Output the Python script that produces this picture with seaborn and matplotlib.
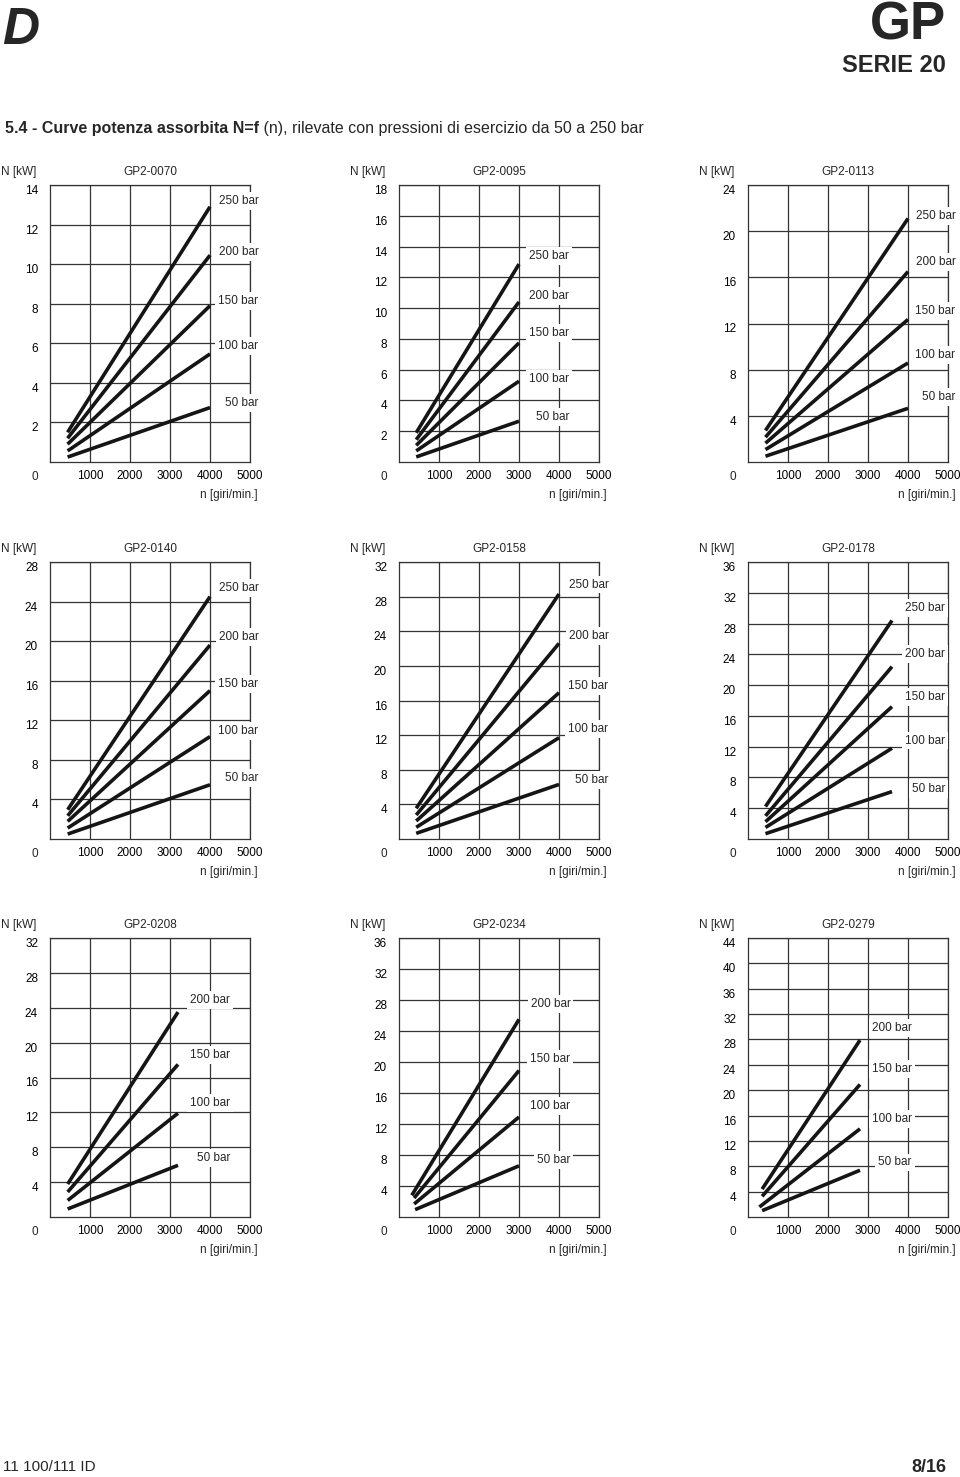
import pandas as pd
import matplotlib
matplotlib.use("Agg")
import matplotlib.pyplot as plt
import seaborn as sns

# Power absorbed N [kW] vs speed n [giri/min] -- start/end of each pressure curve
models = ["GP2-0070", "GP2-0095", "GP2-0113",
          "GP2-0140", "GP2-0158", "GP2-0178",
          "GP2-0208", "GP2-0234", "GP2-0279"]
y_max = [14, 18, 24, 28, 32, 36, 32, 36, 44]
y_step = [2, 2, 4, 4, 4, 4, 4, 4, 4]
x_ticks = [1000, 2000, 3000, 4000, 5000]

bars_5 = [250, 200, 150, 100, 50]
bars_4 = [200, 150, 100, 50]

# GP2-0070
n_lo_0070 = [440, 440, 440, 440, 440]
n_hi_0070 = 4000
kw_lo_0070 = [1.5, 1.2, 0.9, 0.56, 0.25]
kw_hi_0070 = [12.9, 10.45, 7.9, 5.46, 2.75]
# GP2-0095
n_lo_0095 = [430, 430, 430, 430, 430]
n_hi_0095 = 3000
kw_lo_0095 = [1.9, 1.45, 1.08, 0.72, 0.33]
kw_hi_0095 = [12.86, 10.4, 7.74, 5.25, 2.65]
# GP2-0113
n_lo_0113 = [437, 437, 437, 437, 437]
n_hi_0113 = 4000
kw_lo_0113 = [2.73, 2.15, 1.63, 1.08, 0.5]
kw_hi_0113 = [21.1, 16.5, 12.35, 8.58, 4.65]
# GP2-0140
n_lo_0140 = [442, 442, 442, 442, 442]
n_hi_0140 = 4000
kw_lo_0140 = [2.96, 2.35, 1.78, 1.11, 0.5]
kw_hi_0140 = [24.5, 19.6, 15.0, 10.35, 5.48]
# GP2-0158
n_lo_0158 = [430, 430, 430, 430, 430]
n_hi_0158 = 4000
kw_lo_0158 = [3.54, 2.77, 2.08, 1.35, 0.65]
kw_hi_0158 = [28.3, 22.6, 16.9, 11.7, 6.3]
# GP2-0178
n_lo_0178 = [437, 437, 437, 437, 437]
n_hi_0178 = 3600
kw_lo_0178 = [4.22, 3.0, 2.24, 1.5, 0.69]
kw_hi_0178 = [28.4, 22.4, 17.2, 11.8, 6.16]
# GP2-0208
n_lo_0208 = [442, 442, 442, 442]
n_hi_0208 = 3200
kw_lo_0208 = [3.78, 2.87, 1.9, 0.92]
kw_hi_0208 = [23.5, 17.5, 11.9, 5.93]
# GP2-0234
n_lo_0234 = [320, 378, 378, 403]
n_hi_0234 = 3000
kw_lo_0234 = [2.8, 2.45, 1.68, 0.95]
kw_hi_0234 = [25.5, 18.9, 12.9, 6.6]
# GP2-0279
n_lo_0279 = [353, 353, 286, 353]
n_hi_0279 = 2800
kw_lo_0279 = [4.4, 3.26, 1.58, 1.0]
kw_hi_0279 = [27.9, 20.9, 13.9, 7.37]

panels = [
    (bars_5, n_lo_0070, n_hi_0070, kw_lo_0070, kw_hi_0070),
    (bars_5, n_lo_0095, n_hi_0095, kw_lo_0095, kw_hi_0095),
    (bars_5, n_lo_0113, n_hi_0113, kw_lo_0113, kw_hi_0113),
    (bars_5, n_lo_0140, n_hi_0140, kw_lo_0140, kw_hi_0140),
    (bars_5, n_lo_0158, n_hi_0158, kw_lo_0158, kw_hi_0158),
    (bars_5, n_lo_0178, n_hi_0178, kw_lo_0178, kw_hi_0178),
    (bars_4, n_lo_0208, n_hi_0208, kw_lo_0208, kw_hi_0208),
    (bars_4, n_lo_0234, n_hi_0234, kw_lo_0234, kw_hi_0234),
    (bars_4, n_lo_0279, n_hi_0279, kw_lo_0279, kw_hi_0279),
]

# layout: where the "xxx bar" labels sit (right edge in n units, centre in kW)
label_right = [5210, 4250, 5185, 5210, 5235, 4930, 4500, 4285, 4090]
label_y = [
    [13.2, 10.6, 8.15, 5.85, 3.0],
    [13.4, 10.8, 8.4, 5.4, 2.9],
    [21.3, 17.3, 13.1, 9.3, 5.6],
    [25.4, 20.4, 15.7, 10.9, 6.15],
    [29.4, 23.5, 17.7, 12.7, 6.8],
    [30.0, 24.05, 18.4, 12.8, 6.5],
    [24.9, 18.6, 13.1, 6.8],
    [27.5, 20.4, 14.3, 7.4],
    [29.8, 23.4, 15.4, 8.6],
]

sns.set_style("white")
plt.rcParams["font.family"] = ["Liberation Sans", "DejaVu Sans"]

W, H = 960, 1477
fig = plt.figure(figsize=(W / 100, H / 100), dpi=100)

col_left = [50, 399, 748]
row_bottom = [462, 839, 1217]
row_height = [277, 277, 279]
grid_col = "#333333"
fs = 8.5

for i, name in enumerate(models):
    r, c = divmod(i, 3)
    ax = fig.add_axes([col_left[c] / W, 1 - row_bottom[r] / H,
                       200 / W, row_height[r] / H])
    bars, n_lo, n_hi, kw_lo, kw_hi = panels[i]

    rows = []
    for b, n0, k0, k1 in zip(bars, n_lo, kw_lo, kw_hi):
        rows.append({"n": n0, "N": k0, "bar": b})
        rows.append({"n": n_hi, "N": k1, "bar": b})
    df = pd.DataFrame(rows)
    sns.lineplot(data=df, x="n", y="N", hue="bar", units="bar",
                 estimator=None, sort=False, legend=False, ax=ax,
                 palette={b: "#151515" for b in bars},
                 linewidth=2.6, solid_capstyle="butt")

    ax.set_xlim(0, 5000)
    ax.set_ylim(0, y_max[i])
    ax.set_xticks(x_ticks)
    ax.set_xticklabels([str(t) for t in x_ticks])
    yt = list(range(y_step[i], y_max[i] + 1, y_step[i]))
    ax.set_yticks(yt)
    ax.set_yticklabels([str(t) for t in yt])
    for lab in ax.get_yticklabels():
        lab.set_va("top")
    ax.tick_params(axis="both", length=0, labelsize=fs, colors="black")
    ax.tick_params(axis="y", pad=8.6)
    ax.tick_params(axis="x", pad=6)
    ax.set_xlabel("")
    ax.set_ylabel("")
    ax.grid(True, color=grid_col, linewidth=0.9)
    for s in ax.spines.values():
        s.set_color(grid_col)
        s.set_linewidth(0.9)

    for b, yl in zip(bars, label_y[i]):
        ax.text(label_right[i], yl, f"{b} bar", ha="right", va="center",
                fontsize=fs, clip_on=False, zorder=5,
                bbox=dict(boxstyle="square,pad=0.25", fc="white", ec="none"))

    ax.annotate("0", xy=(0, 0), xycoords="axes fraction", xytext=(-12, -15),
                textcoords="offset pixels", ha="right", va="center", fontsize=fs)
    ax.annotate("n [giri/min.]", xy=(1, 0), xycoords="axes fraction",
                xytext=(8, -33), textcoords="offset pixels",
                ha="right", va="center", fontsize=fs)
    ax.annotate("N [kW]", xy=(0, 1), xycoords="axes fraction",
                xytext=(-14, 13), textcoords="offset pixels",
                ha="right", va="center", fontsize=fs)
    ax.annotate(name, xy=(0.5, 1), xycoords="axes fraction",
                xytext=(0, 13), textcoords="offset pixels",
                ha="center", va="center", fontsize=fs)

# page header / footer
fig.text(2 / W, 1 - 31 / H, "D", fontsize=37, fontweight="heavy",
         fontstyle="italic", va="center", ha="left")
fig.text(946 / W, 1 - 26 / H, "GP", fontsize=38, fontweight="bold",
         ha="right", va="center")
fig.text(946 / W, 1 - 65 / H, "SERIE 20", fontsize=17, fontweight="bold",
         ha="right", va="center")
t1 = fig.text(5 / W, 1 - 128 / H, "5.4 - Curve potenza assorbita N=f",
              fontsize=11.5, fontweight="bold", ha="left", va="center")
fig.add_artist(plt.Annotation(
    " (n), rilevate con pressioni di esercizio da 50 a 250 bar",
    xy=(1, 0), xycoords=t1, ha="left", va="bottom", fontsize=11.5,
    annotation_clip=False))
fig.text(3 / W, 1 - 1467 / H, "11 100/111 ID", fontsize=11,
         ha="left", va="center")
fig.text(946 / W, 1 - 1467 / H, "8/16", fontsize=13, fontweight="bold",
         ha="right", va="center")

fig.savefig("out.png", dpi=100)
